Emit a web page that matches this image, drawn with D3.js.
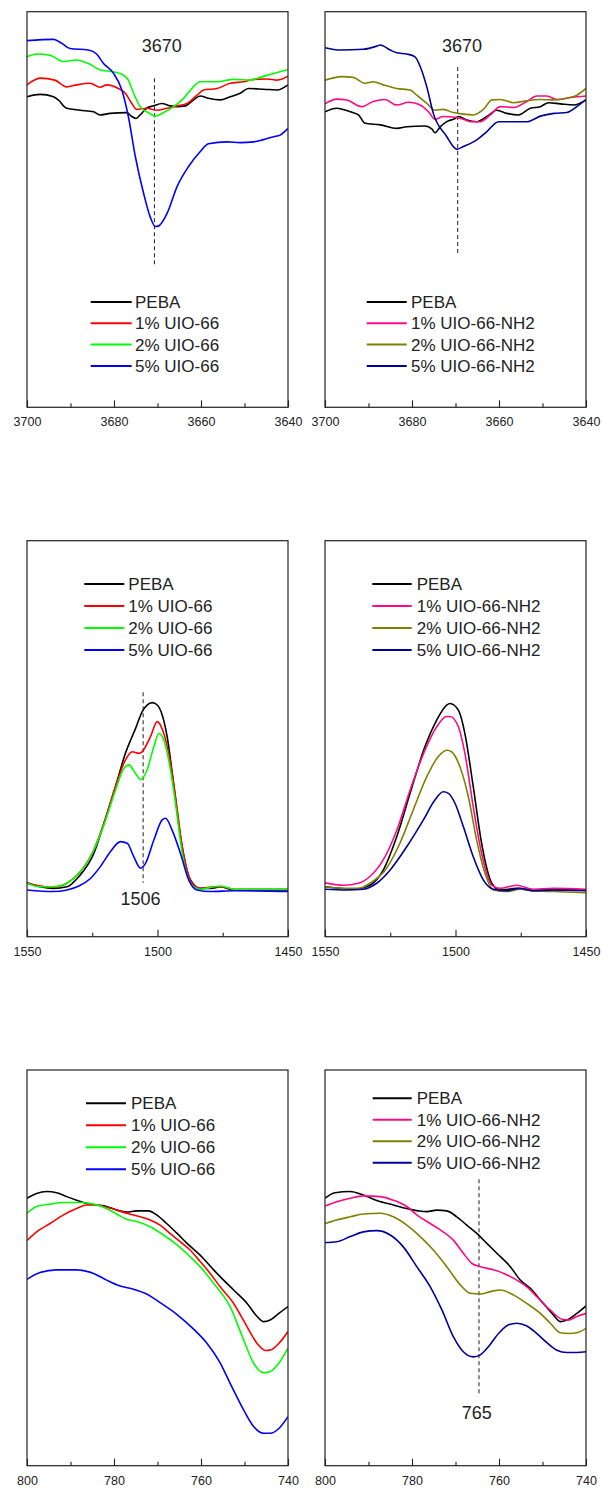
<!DOCTYPE html>
<html><head><meta charset="utf-8">
<script src="https://cdn.jsdelivr.net/npm/d3@7"></script>
<style>
html,body{margin:0;padding:0;background:#fff;}
svg{display:block;}
text{font-family:"Liberation Sans",Arial,sans-serif;fill:#222;}
</style></head>
<body>
<script>
// ---------- DATA (wavenumber cm-1, intensity a.u.) ----------
const namesUIO = ["PEBA","1% UIO-66","2% UIO-66","5% UIO-66"];
const namesNH2 = ["PEBA","1% UIO-66-NH2","2% UIO-66-NH2","5% UIO-66-NH2"];

// Panel 1: 3700-3640, UIO-66
const p1_peba = [[3700,78.5],[3697.0,79.1],[3693.9,78.5],[3692.8,77.7],[3690.9,75.6],[3687.8,75.1],[3684.7,74.7],[3683.2,73.9],[3680.9,74.3],[3677.1,74.5],[3675.9,73.5],[3674.9,73.0],[3674.0,73.9],[3672.5,75.6],[3670.9,76.2],[3669.0,76.8],[3667.1,76.2],[3665.5,76.0],[3663.6,76.2],[3661.7,77.7],[3660.2,78.7],[3658.3,78.1],[3655.6,77.7],[3653.3,78.5],[3651.0,79.4],[3649.1,80.6],[3645.6,80.4],[3642.5,80.2],[3640,81.5]];
const p1_uio1 = [[3700,81.5],[3697.0,83.2],[3693.6,82.7],[3690.9,81.0],[3688.6,81.5],[3685.5,81.9],[3683.2,80.9],[3681.7,81.5],[3679.0,80.6],[3677.4,79.4],[3675.9,76.8],[3674.8,75.3],[3672.5,75.6],[3670.2,75.1],[3667.8,75.6],[3665.5,76.2],[3663.2,76.8],[3660.9,78.9],[3659.4,80.2],[3656.3,80.6],[3653.3,81.9],[3650.2,82.3],[3647.9,82.9],[3644.8,83.0],[3642.5,82.7],[3640,83.7]];
const p1_uio2 = [[3700,88.6],[3697.8,89.3],[3694.7,89.0],[3691.6,87.4],[3688.6,87.8],[3685.9,86.9],[3683.2,85.3],[3680.1,84.8],[3678.2,84.2],[3676.7,82.7],[3675.5,79.4],[3674.0,76.0],[3672.1,74.5],[3670.5,73.6],[3668.6,74.5],[3666.3,76.0],[3664.0,78.1],[3662.1,80.6],[3660.2,82.3],[3656.3,82.3],[3652.5,82.9],[3648.7,82.7],[3646.4,83.4],[3643.3,84.4],[3640,85.4]];
const p1_uio5 = [[3700,92.7],[3693.9,93.0],[3692.0,92.0],[3690.1,90.7],[3685.9,90.3],[3684.0,89.3],[3682.4,86.9],[3680.1,84.4],[3678.2,80.2],[3676.7,73.5],[3675.1,63.4],[3673.2,54.1],[3671.7,48.2],[3670.5,45.7],[3669.8,45.8],[3667.8,49.0],[3665.5,55.8],[3662.9,60.8],[3660.2,64.6],[3658.3,66.6],[3654.0,67.1],[3651.0,66.9],[3647.9,67.1],[3643.3,68.4],[3641.8,68.8],[3640,70.5]];

// Panel 2: 3700-3640, UIO-66-NH2
const p2_peba = [[3700,74.7],[3697.3,75.6],[3694.2,74.7],[3692.3,73.9],[3690.8,71.8],[3687.3,71.4],[3683.5,70.5],[3681.2,70.9],[3677.0,71.1],[3675.4,70.3],[3674.7,69.4],[3673.5,70.9],[3672.0,72.2],[3670.1,73.0],[3669.3,73.5],[3667.4,72.6],[3665.1,72.2],[3662.8,73.5],[3660.5,75.1],[3658.2,74.3],[3655.5,73.9],[3652.8,75.6],[3650.5,76.0],[3648.6,77.0],[3645.9,76.7],[3642.8,76.4],[3640,77.7]];
const p2_nh1 = [[3700,76.7],[3697.3,77.9],[3695.0,77.7],[3691.6,76.0],[3688.9,77.3],[3686.2,77.8],[3683.5,76.4],[3680.8,77.1],[3678.5,76.6],[3676.2,74.7],[3674.7,72.8],[3672.8,73.5],[3670.1,73.3],[3668.2,72.8],[3666.6,72.2],[3664.3,72.2],[3662.0,73.9],[3659.7,76.0],[3656.6,75.8],[3653.6,77.3],[3651.3,78.7],[3649.0,78.7],[3646.7,77.8],[3643.6,78.3],[3640,78.7]];
const p2_nh2 = [[3700,82.7],[3696.2,83.6],[3693.5,83.4],[3690.8,81.9],[3688.9,82.3],[3686.6,81.5],[3683.5,80.6],[3680.4,80.2],[3678.9,78.9],[3676.6,76.8],[3674.7,75.1],[3672.8,75.3],[3670.5,74.5],[3668.2,74.1],[3665.9,73.9],[3663.6,75.3],[3661.6,77.7],[3659.7,77.8],[3656.6,77.0],[3653.6,77.5],[3650.5,77.8],[3647.4,77.7],[3644.4,78.1],[3642.1,78.9],[3640,80.6]];
const p2_nh5 = [[3700,90.9],[3696.5,90.3],[3691.2,90.5],[3688.1,91.3],[3687.3,91.6],[3685.0,90.3],[3683.5,89.6],[3681.2,89.3],[3679.3,88.6],[3678.1,86.1],[3676.6,81.0],[3675.1,74.3],[3672.0,68.4],[3670.5,65.9],[3669.7,65.2],[3668.2,65.9],[3665.1,67.6],[3662.8,69.7],[3660.1,72.2],[3656.6,72.2],[3653.6,72.2],[3650.5,73.6],[3647.4,74.3],[3644.4,74.5],[3642.1,76.0],[3640,77.8]];

// Panel 3: 1550-1450, UIO-66
const p3_peba = [[1550,13.6],[1544.9,12.6],[1540,12.2],[1534.7,12.6],[1530.1,15.2],[1524.4,21.0],[1520.1,29.5],[1516.1,37.9],[1512.3,46.3],[1508.4,52.6],[1505.9,56.8],[1504.0,58.5],[1502.0,59.1],[1500.1,58.5],[1498.2,56.0],[1496.3,50.5],[1493.7,37.9],[1491.2,25.3],[1487.3,14.3],[1483.5,12.2],[1479.7,12.2],[1475.8,12.6],[1470.7,11.8],[1457.9,11.8],[1450,11.8]];
const p3_uio1 = [[1550,13.5],[1544.9,12.8],[1540,12.5],[1534.7,13.5],[1530.1,16.0],[1524.4,21.9],[1520.1,29.5],[1516.1,37.9],[1512.3,44.6],[1509.7,46.7],[1507.2,46.3],[1505.9,46.7],[1502.7,50.5],[1500.1,54.3],[1497.6,51.3],[1495.7,46.3],[1493.1,35.4],[1490.5,22.7],[1486.7,13.5],[1483.5,12.2],[1478.4,12.6],[1475.8,12.6],[1470.7,12.0],[1450,12.0]];
const p3_uio2 = [[1550,13.5],[1544.9,12.6],[1540,12.6],[1534.7,13.5],[1530.1,16.0],[1524.4,21.9],[1520.1,29.0],[1516.1,37.0],[1512.9,42.5],[1511.0,43.4],[1508.4,41.2],[1506.5,39.7],[1504.0,42.1],[1501.4,48.0],[1499.5,51.3],[1497.6,49.7],[1495.7,44.6],[1493.1,33.7],[1490.5,21.0],[1486.7,13.0],[1483.5,12.0],[1478.4,12.6],[1475.8,12.8],[1470.7,12.0],[1450,12.0]];
const p3_uio5 = [[1550,11.8],[1540,11.4],[1534.7,11.8],[1530.1,12.8],[1525.7,14.7],[1521.9,17.7],[1518.0,21.5],[1514.2,24.0],[1511.6,23.6],[1509.1,20.2],[1506.5,17.3],[1504.6,18.5],[1501.4,24.4],[1498.2,29.5],[1496.9,29.9],[1494.4,26.9],[1491.2,21.0],[1488.0,14.3],[1484.8,11.8],[1479.7,11.4],[1470.7,11.6],[1450,11.4]];

// Panel 4: 1550-1450, UIO-66-NH2
const p4_peba = [[1550,12.6],[1544.3,12.2],[1539.4,12.0],[1532.8,13.0],[1527.7,16.8],[1522.5,25.3],[1517.4,36.2],[1511.7,48.0],[1507.2,54.7],[1503.4,58.5],[1502.1,58.9],[1498.9,57.2],[1496.4,51.3],[1493.2,37.9],[1490.0,23.6],[1486.1,13.5],[1483.0,11.8],[1476.6,12.2],[1470.2,11.6],[1462.5,11.8],[1450,11.8]];
const p4_nh1 = [[1550,13.6],[1543.0,13.0],[1537.2,13.5],[1532.8,15.2],[1527.7,19.4],[1522.5,26.9],[1517.4,37.0],[1511.7,47.1],[1507.2,53.0],[1503.4,55.6],[1502.1,55.6],[1498.9,53.0],[1496.4,46.3],[1493.2,32.8],[1490.0,21.0],[1486.1,13.0],[1483.0,12.2],[1476.6,13.0],[1470.2,12.0],[1462.5,12.2],[1450,12.0]];
const p4_nh2 = [[1550,12.6],[1541.7,12.2],[1537.2,12.2],[1532.8,13.5],[1526.4,17.3],[1521.3,23.6],[1516.2,32.0],[1511.0,40.4],[1506.6,45.5],[1503.4,47.1],[1501.5,46.7],[1498.3,42.9],[1495.1,35.4],[1491.9,24.4],[1488.7,16.0],[1485.5,11.8],[1480.4,11.4],[1475.3,12.0],[1470.2,11.6],[1462.5,11.4],[1450,11.1]];
const p4_nh5 = [[1550,12.0],[1541.7,11.8],[1535.3,12.0],[1530.2,13.5],[1525.1,16.8],[1518.7,22.7],[1512.3,29.5],[1507.9,34.5],[1504.7,36.6],[1502.7,36.2],[1500.2,33.7],[1497.0,27.8],[1493.2,20.2],[1489.3,14.3],[1485.5,12.0],[1480.4,11.6],[1475.3,12.2],[1470.2,11.6],[1462.5,11.8],[1450,11.6]];

// Panel 5: 800-740, UIO-66
const p5_peba = [[800,67.6],[797.8,68.8],[795.5,69.3],[793.2,69.0],[790.9,68.0],[788.6,67.1],[786.3,66.3],[784.0,65.9],[781.7,65.5],[779.4,64.6],[777.1,64.1],[774.8,64.4],[772.1,64.4],[770.2,63.4],[767.9,61.2],[765.5,58.7],[763.2,56.2],[760.2,53.2],[757.1,49.5],[754.8,46.9],[752.5,44.4],[749.4,41.0],[747.1,37.7],[745.6,36.4],[744.1,36.8],[742.1,38.5],[740,40.2]];
const p5_uio1 = [[800,56.9],[797.8,59.1],[794.7,61.2],[791.6,63.4],[788.6,65.0],[786.3,65.9],[784.0,65.9],[781.7,65.3],[779.4,64.6],[777.1,63.8],[774.0,62.9],[771.7,62.1],[769.4,60.8],[767.1,58.7],[764.8,56.6],[762.5,54.5],[760.2,51.6],[757.9,48.6],[755.6,45.2],[752.5,41.0],[749.4,35.1],[747.1,30.9],[745.2,29.1],[744.1,29.2],[742.1,30.9],[740,33.9]];
const p5_uio2 = [[800,63.8],[797.8,65.5],[794.7,66.1],[790.9,66.5],[787.8,66.5],[784.7,66.1],[781.7,65.0],[779.4,63.6],[777.1,62.3],[774.8,61.7],[771.7,60.4],[768.6,58.3],[765.5,55.8],[762.5,52.8],[760.2,50.3],[757.1,46.1],[753.3,40.2],[750.2,31.8],[747.9,25.9],[745.6,23.5],[744.1,23.8],[742.1,25.9],[740,29.7]];
const p5_uio5 = [[800,47.1],[797.0,48.8],[793.2,49.5],[788.6,49.5],[784.7,48.6],[781.7,46.9],[778.6,45.4],[775.5,44.6],[772.5,43.4],[769.4,41.2],[765.5,38.2],[761.7,34.5],[758.6,30.9],[755.6,26.0],[753.3,20.8],[750.2,14.1],[747.9,9.9],[745.6,8.2],[744.1,8.2],[742.1,9.4],[740,12.4]];

// Panel 6: 800-740, UIO-66-NH2
const p6_peba = [[800,67.6],[797.7,69.0],[794.2,69.3],[791.2,68.4],[788.1,67.0],[784.3,65.9],[781.2,65.0],[778.5,64.4],[776.6,64.2],[774.3,64.6],[772.0,64.4],[769.7,62.9],[767.4,60.8],[765.1,58.7],[762.8,56.2],[760.5,53.7],[757.4,50.3],[755.1,46.9],[752.8,44.8],[750.5,41.9],[747.8,38.5],[745.9,36.4],[744.4,36.8],[742.1,38.5],[740,40.4]];
const p6_nh1 = [[800,65.6],[797.3,66.7],[794.2,67.6],[791.2,68.2],[787.3,68.0],[784.3,67.1],[781.2,65.5],[778.9,63.4],[775.8,61.2],[773.5,59.6],[770.5,57.0],[768.2,53.7],[766.2,51.1],[764.3,50.3],[761.3,49.5],[758.9,48.6],[755.9,46.9],[753.6,45.2],[751.3,42.7],[748.2,39.3],[745.5,37.0],[744.0,36.8],[742.1,37.7],[740,38.5]];
const p6_nh2 = [[800,61.2],[797.3,62.1],[794.2,62.9],[791.2,63.6],[787.3,63.8],[784.3,62.9],[781.2,60.8],[778.1,57.9],[775.1,54.5],[772.0,50.3],[768.9,45.7],[766.6,43.6],[764.3,43.4],[762.0,44.0],[759.7,44.4],[756.6,43.1],[753.6,41.0],[750.5,38.5],[748.2,36.0],[745.9,33.6],[744.0,33.4],[742.1,33.6],[740,34.7]];
const p6_nh5 = [[800,56.4],[797.3,56.6],[794.2,57.9],[791.2,59.1],[788.1,59.4],[785.0,58.3],[782.0,55.3],[778.9,50.3],[775.8,45.2],[773.1,39.3],[770.5,32.6],[768.2,28.8],[765.9,27.5],[764.3,28.0],[762.4,30.1],[760.1,33.4],[757.8,35.6],[755.9,36.0],[753.6,35.3],[751.3,33.4],[749.0,31.1],[746.7,29.2],[744.4,28.6],[742.1,28.6],[740,28.8]];

// Axis ticks
const ticksOH = [3700,3680,3660,3640], minorOH = [3690,3670,3650];
const ticksCN = [1550,1500,1450], minorCN = [1525,1475];
const ticksCH = [800,780,760,740], minorCH = [790,770,750];

// Peak markers (wavenumber, label)
const markerP1 = {x:3670.7, label:"3670", labelX:3669.0};
const markerP2 = {x:3669.5, label:"3670", labelX:3668.5};
const markerP3 = {x:1505.5, label:"1506", labelX:1506.5};
const markerP6 = {x:764.6, label:"765", labelX:765.1};

// ---------- STYLE / LAYOUT ----------
const colorsUIO = ["#000000","#ff0000","#00ff00","#0000ff"];
const colorsNH2 = ["#000000","#ff0a84","#808000","#00009c"];

const W = 603, H = 1488;
const svg = d3.select("body").append("svg").attr("width", W).attr("height", H);

const colL = [27, 288], colR = [325, 586];
const rows = [[11.7, 407.3], [540.7, 936.7], [1070, 1465.7]];

const panels = [
  {xr: colL, yr: rows[0], dom:[3700,3640], ticks:ticksOH, minor:minorOH, series:[p1_peba,p1_uio1,p1_uio2,p1_uio5], names:namesUIO, colors:colorsUIO,
   legend:{x0:63.7, x1:104.7, tx:108, y0:290.3, dy:21.3}, marker:markerP1, mk:{y0:83.2, y1:35.5, ly:89.9}},
  {xr: colR, yr: rows[0], dom:[3700,3640], ticks:ticksOH, minor:minorOH, series:[p2_peba,p2_nh1,p2_nh2,p2_nh5], names:namesNH2, colors:colorsNH2,
   legend:{x0:41.7, x1:81.7, tx:86, y0:290.3, dy:21.3}, marker:markerP2, mk:{y0:86.0, y1:38.5, ly:89.9}},
  {xr: colL, yr: rows[1], dom:[1550,1450], ticks:ticksCN, minor:minorCN, series:[p3_peba,p3_uio1,p3_uio2,p3_uio5], names:namesUIO, colors:colorsUIO,
   legend:{x0:57.3, x1:97.3, tx:101.3, y0:43.3, dy:22}, marker:markerP3, mk:{y0:61.7, y1:13.6, ly:7.9}},
  {xr: colR, yr: rows[1], dom:[1550,1450], ticks:ticksCN, minor:minorCN, series:[p4_peba,p4_nh1,p4_nh2,p4_nh5], names:namesNH2, colors:colorsNH2,
   legend:{x0:47.3, x1:86.7, tx:91.7, y0:43.3, dy:22}, marker:null},
  {xr: colL, yr: rows[2], dom:[800,740], ticks:ticksCH, minor:minorCH, series:[p5_peba,p5_uio1,p5_uio2,p5_uio5], names:namesUIO, colors:colorsUIO,
   legend:{x0:59, x1:99, tx:104, y0:33.3, dy:22}, marker:null},
  {xr: colR, yr: rows[2], dom:[800,740], ticks:ticksCH, minor:minorCH, series:[p6_peba,p6_nh1,p6_nh2,p6_nh5], names:namesNH2, colors:colorsNH2,
   legend:{x0:47.7, x1:86.7, tx:91.7, y0:28.3, dy:21.5}, marker:markerP6, mk:{y0:72.4, y1:18.3, ly:11.75}}
];

panels.forEach((p, i) => {
  const x = d3.scaleLinear().domain(p.dom).range(p.xr);
  const y = d3.scaleLinear().domain([0, 100]).range([p.yr[1], p.yr[0]]);
  const g = svg.append("g");
  const clipId = "clip" + i;
  svg.append("clipPath").attr("id", clipId).append("rect")
    .attr("x", p.xr[0]).attr("y", p.yr[0]).attr("width", p.xr[1]-p.xr[0]).attr("height", p.yr[1]-p.yr[0]);

  // marker dashed line
  if (p.marker) {
    g.append("line")
      .attr("x1", x(p.marker.x)).attr("x2", x(p.marker.x))
      .attr("y1", y(p.mk.y0)).attr("y2", y(p.mk.y1))
      .attr("stroke", "#333").attr("stroke-width", 1.1).attr("stroke-dasharray", "4,3");
    g.append("text").attr("x", x(p.marker.labelX)).attr("y", y(p.mk.ly))
      .attr("text-anchor", "middle").attr("font-size", 18).text(p.marker.label);
  }

  // lines
  const line = d3.line().x(d => x(d[0])).y(d => y(d[1])).curve(d3.curveMonotoneX);
  const lg = g.append("g").attr("clip-path", `url(#${clipId})`);
  p.series.forEach((s, k) => {
    lg.append("path").datum(s).attr("d", line)
      .attr("fill", "none").attr("stroke", p.colors[k]).attr("stroke-width", 1.6)
      .attr("stroke-linejoin", "round");
  });

  // frame
  g.append("rect").attr("x", p.xr[0]).attr("y", p.yr[0])
    .attr("width", p.xr[1]-p.xr[0]).attr("height", p.yr[1]-p.yr[0])
    .attr("fill", "none").attr("stroke", "#222").attr("stroke-width", 1.2);

  // bottom axis: major ticks inward with labels, minor ticks inward
  const axMajor = d3.axisBottom(x).tickValues(p.ticks).tickSize(-7).tickPadding(10).tickFormat(d3.format("d"));
  const ag = g.append("g").attr("transform", `translate(0,${p.yr[1]})`).call(axMajor);
  ag.select(".domain").remove();
  ag.selectAll(".tick line").attr("stroke", "#222").attr("stroke-width", 1.1);
  ag.selectAll(".tick text").attr("font-size", 12.5).attr("font-family", '"Liberation Sans",Arial,sans-serif').attr("fill", "#222");
  const axMinor = d3.axisBottom(x).tickValues(p.minor).tickSize(-4).tickFormat("");
  const am = g.append("g").attr("transform", `translate(0,${p.yr[1]})`).call(axMinor);
  am.select(".domain").remove();
  am.selectAll(".tick line").attr("stroke", "#222").attr("stroke-width", 1.1);

  // legend
  const L = p.legend;
  p.names.forEach((n, k) => {
    const yy = p.yr[0] + L.y0 + k * L.dy;
    g.append("line").attr("x1", p.xr[0] + L.x0).attr("x2", p.xr[0] + L.x1)
      .attr("y1", yy).attr("y2", yy).attr("stroke", p.colors[k]).attr("stroke-width", 2);
    g.append("text").attr("x", p.xr[0] + L.tx).attr("y", yy).attr("dy", "0.36em")
      .attr("font-size", 17).text(n);
  });
});
</script>
</body></html>
